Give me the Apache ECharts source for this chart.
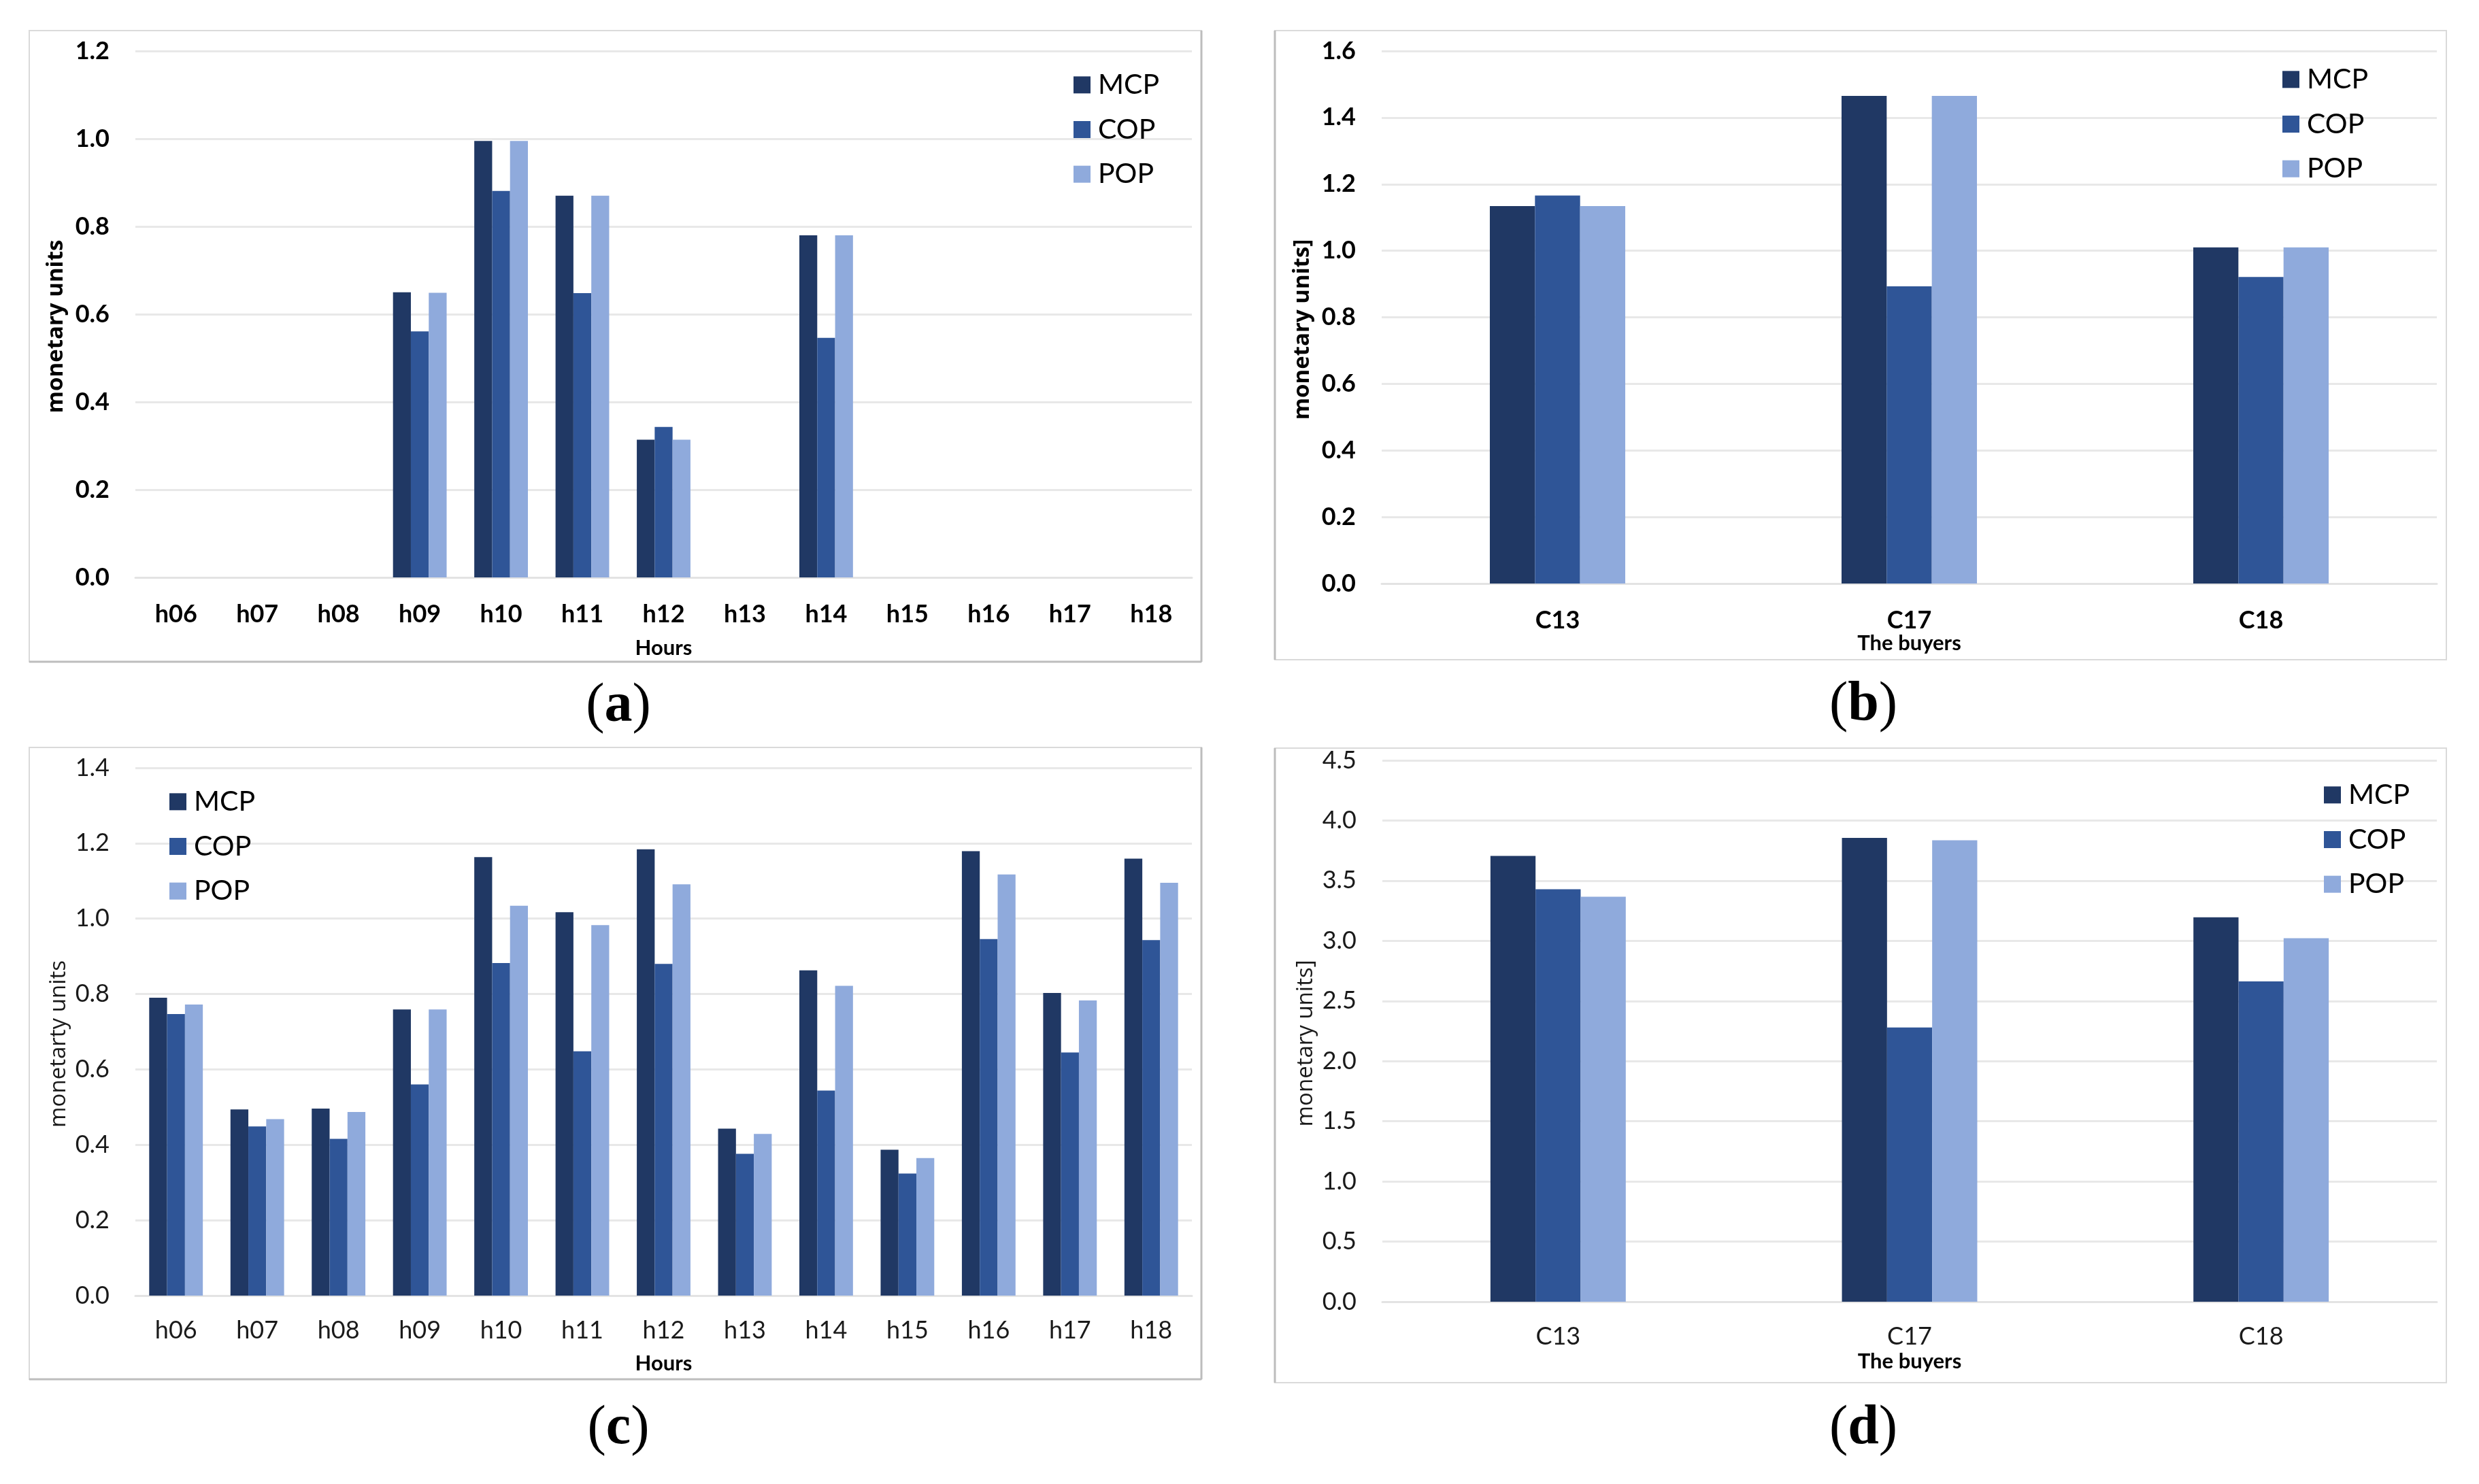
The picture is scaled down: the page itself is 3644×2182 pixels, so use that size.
<!DOCTYPE html>
<html>
<head>
  <title>MCP / COP / POP</title>
  <script src="https://cdn.jsdelivr.net/npm/echarts@6/dist/echarts.min.js"></script>
  <style>
    html, body { margin: 0; padding: 0; background: #fff; }
    #chart { width: 3644px; height: 2182px; }
  </style>
</head>
<body>
  <div id="chart"></div>
  <script>
    // categories
    const hours = ['h06', 'h07', 'h08', 'h09', 'h10', 'h11', 'h12', 'h13', 'h14', 'h15', 'h16', 'h17', 'h18'];
    const buyers = ['C13', 'C17', 'C18'];
    const seriesNames = ['MCP', 'COP', 'POP'];

    // (a) hours
    const mcpA = [0, 0, 0, 0.650, 0.995, 0.870, 0.314, 0, 0.780, 0, 0, 0, 0];
    const copA = [0, 0, 0, 0.561, 0.881, 0.648, 0.343, 0, 0.546, 0, 0, 0, 0];
    const popA = [0, 0, 0, 0.649, 0.995, 0.870, 0.314, 0, 0.780, 0, 0, 0, 0];

    // (b) buyers
    const mcpB = [1.134, 1.465, 1.010];
    const copB = [1.166, 0.893, 0.921];
    const popB = [1.134, 1.465, 1.010];

    // (c) hours
    const mcpC = [0.790, 0.494, 0.496, 0.759, 1.163, 1.017, 1.184, 0.443, 0.863, 0.387, 1.179, 0.803, 1.159];
    const copC = [0.747, 0.449, 0.416, 0.560, 0.882, 0.648, 0.880, 0.376, 0.544, 0.324, 0.946, 0.645, 0.943];
    const popC = [0.772, 0.468, 0.487, 0.759, 1.034, 0.983, 1.091, 0.429, 0.822, 0.365, 1.117, 0.783, 1.095];

    // (d) buyers
    const mcpD = [3.706, 3.856, 3.196];
    const copD = [3.429, 2.280, 2.663];
    const popD = [3.366, 3.836, 3.022];

    // y axis ranges [max, interval]
    const yRangeA = [1.2, 0.2];
    const yRangeB = [1.6, 0.2];
    const yRangeC = [1.4, 0.2];
    const yRangeD = [4.5, 0.5];

    const colors = ['#203864', '#2F5597', '#8FAADC'];
    const tickFont = 'Lato';
    const nameFont = 'Open Sans';

    const chart = echarts.init(document.getElementById('chart'), null, { renderer: 'canvas' });

    // one panel = grid + axes + legend + 3 bar series
    const panels = [
      {
        grid: { left: 199, top: 75, width: 1553, height: 774 },
        cats: hours, data: [mcpA, copA, popA], y: yRangeA, bold: true,
        yName: 'monetary units', xName: 'Hours', xNameGap: 80, labelMargin: 27, gap: '34%',
        legend: { left: 1573, top: 89 }
      },
      {
        grid: { left: 2031, top: 75, width: 1551, height: 783 },
        cats: buyers, data: [mcpB, copB, popB], y: yRangeB, bold: true,
        yName: 'monetary units]', xName: 'The buyers', xNameGap: 64, labelMargin: 27, gap: '61.5%',
        legend: { left: 3350, top: 81 }
      },
      {
        grid: { left: 199, top: 1129, width: 1553, height: 776 },
        cats: hours, data: [mcpC, copC, popC], y: yRangeC, bold: false,
        yName: 'monetarty units', xName: 'Hours', xNameGap: 76, labelMargin: 24, gap: '34%',
        legend: { left: 244, top: 1143 }
      },
      {
        grid: { left: 2032, top: 1118, width: 1550, height: 796 },
        cats: buyers, data: [mcpD, copD, popD], y: yRangeD, bold: false,
        yName: 'monetary units]', xName: 'The buyers', xNameGap: 64, labelMargin: 24, gap: '61.5%',
        legend: { left: 3411, top: 1133 }
      }
    ];

    const grids = [], xAxes = [], yAxes = [], legends = [], series = [];

    panels.forEach((p, i) => {
      grids.push(p.grid);
      xAxes.push({
        type: 'category',
        gridIndex: i,
        data: p.cats,
        name: p.xName,
        nameLocation: 'middle',
        nameGap: p.xNameGap,
        nameMoveOverlap: false,
        nameTextStyle: { fontFamily: tickFont, fontWeight: 'bold', fontSize: 31, color: '#000' },
        axisLine: { show: true, lineStyle: { color: '#E3E3E3', width: 3 } },
        axisTick: { show: false },
        axisLabel: {
          margin: p.labelMargin, fontFamily: tickFont, fontSize: 36,
          fontWeight: p.bold ? 'bold' : 'normal', color: p.bold ? '#000' : '#1a1a1a'
        }
      });
      yAxes.push({
        type: 'value',
        gridIndex: i,
        min: 0,
        max: p.y[0],
        interval: p.y[1],
        name: p.yName,
        nameLocation: 'middle',
        nameRotate: 90,
        nameGap: 86,
        nameMoveOverlap: false,
        nameTextStyle: {
          fontFamily: nameFont, fontSize: 33, padding: [0, 36, 0, 0],
          fontWeight: p.bold ? 'bold' : 'normal', color: p.bold ? '#000' : '#1a1a1a'
        },
        axisLine: { show: false },
        axisTick: { show: false },
        splitLine: { lineStyle: { color: '#E8E8E8', width: 3 } },
        axisLabel: {
          margin: 38, fontFamily: tickFont, fontSize: 36,
          fontWeight: p.bold ? 'bold' : 'normal', color: p.bold ? '#000' : '#1a1a1a',
          formatter: v => v.toFixed(1)
        }
      });
      legends.push({
        data: seriesNames,
        orient: 'vertical',
        left: p.legend.left,
        top: p.legend.top,
        icon: 'rect',
        itemWidth: 25,
        itemHeight: 25,
        itemGap: 4,
        selectedMode: false,
        textStyle: { fontFamily: tickFont, fontSize: 41, color: '#000', padding: [0, 0, 0, 6] }
      });
      p.data.forEach((values, k) => {
        series.push({
          name: seriesNames[k],
          type: 'bar',
          xAxisIndex: i,
          yAxisIndex: i,
          data: values,
          barGap: '0%',
          barCategoryGap: p.gap,
          itemStyle: { color: colors[k] },
          silent: true
        });
      });
    });

    // frames and sub-figure captions
    const frames = [
      { x: 43, y: 45, w: 1723, h: 928, dark: ['right', 'bottom'] },
      { x: 1874, y: 45, w: 1722, h: 925, dark: ['left'] },
      { x: 43, y: 1099, w: 1723, h: 929, dark: ['right', 'bottom'] },
      { x: 1874, y: 1100, w: 1722, h: 933, dark: ['left'] }
    ];
    const captions = [
      { x: 909, y: 1039, t: 'a' },
      { x: 2739, y: 1037, t: 'b' },
      { x: 909, y: 2101, t: 'c' },
      { x: 2739, y: 2101, t: 'd' }
    ];

    const graphics = [];
    frames.forEach(f => {
      graphics.push({
        type: 'rect', z: -10,
        shape: { x: f.x, y: f.y, width: f.w, height: f.h },
        style: { fill: 'none', stroke: '#DADADA', lineWidth: 2 }
      });
      f.dark.forEach(side => {
        let s;
        if (side === 'right') s = { x1: f.x + f.w, y1: f.y, x2: f.x + f.w, y2: f.y + f.h };
        if (side === 'bottom') s = { x1: f.x, y1: f.y + f.h, x2: f.x + f.w, y2: f.y + f.h };
        if (side === 'left') s = { x1: f.x, y1: f.y, x2: f.x, y2: f.y + f.h };
        graphics.push({ type: 'line', z: -9, shape: s, style: { stroke: '#BDBDBD', lineWidth: 3 } });
      });
    });
    captions.forEach(c => {
      graphics.push({
        type: 'text',
        x: c.x, y: c.y,
        style: {
          text: '{p|(}{b|' + c.t + '}{p|)}',
          align: 'center', verticalAlign: 'middle',
          rich: {
            p: { fontFamily: 'Liberation Serif', fontSize: 82, fill: '#000' },
            b: { fontFamily: 'Liberation Serif', fontSize: 82, fontWeight: 'bold', fill: '#000' }
          }
        }
      });
    });

    chart.setOption({
      animation: false,
      backgroundColor: '#fff',
      color: colors,
      grid: grids,
      xAxis: xAxes,
      yAxis: yAxes,
      legend: legends,
      series: series,
      graphic: graphics
    });
  </script>
</body>
</html>
